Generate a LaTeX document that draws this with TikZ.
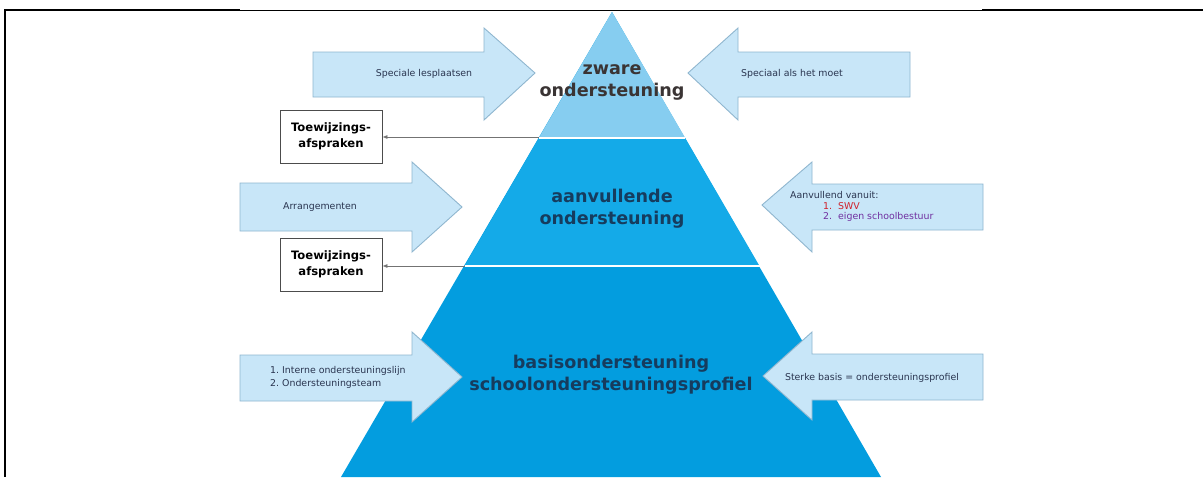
\documentclass[tikz,border=0pt]{standalone}
\usepackage{fontspec}
\setmainfont{DejaVu Sans}
\usetikzlibrary{arrows.meta}
\definecolor{topband}{HTML}{86CDF0}
\definecolor{midband}{HTML}{14AAE8}
\definecolor{botband}{HTML}{039DDF}
\definecolor{arrfill}{HTML}{C8E6F8}
\definecolor{arrline}{HTML}{8FB6CF}
\definecolor{navy}{HTML}{163C5E}
\definecolor{brownish}{HTML}{3A3434}
\definecolor{smalltext}{HTML}{2A3550}
\definecolor{swvred}{HTML}{D0202A}
\definecolor{purp}{HTML}{7030A0}
\tikzset{
  bigarrow/.style={fill=arrfill, draw=arrline, line width=0.9pt, line join=miter},
  leveltext/.style={align=center, inner sep=0pt, font=\fontsize{17.6}{22}\selectfont\bfseries},
  arrtext/.style={inner sep=0pt, text=smalltext, font=\fontsize{9.4}{11}\selectfont},
  boxnode/.style={draw=black!70, line width=0.8pt, fill=white, minimum width=102pt, minimum height=53pt, align=center, inner sep=0pt, font=\fontsize{11.6}{15.5}\selectfont\bfseries},
  tolink/.style={draw=black!55, line width=0.7pt, -{Latex[length=5pt,width=4pt]}}
}
\begin{document}
\begin{tikzpicture}[x=1pt,y=-1pt]
\useasboundingbox (0,0) rectangle (1203,477);
\fill[white] (0,0) rectangle (1203,477);
% frame
\draw[line width=1.8pt] (5,10) -- (240,10);
\draw[line width=0.9pt] (240,10) -- (982,10);
\draw[line width=1.8pt] (982,10) -- (1203,10);
\draw[line width=1.8pt] (5,9.1) -- (5,477);
% pyramid
\fill[botband] (612,12) -- (341,477) -- (881,477) -- cycle;
\fill[midband] (538.8,138) -- (685.2,138) -- (759.5,266) -- (464.5,266) -- cycle;
\fill[topband] (612,12) -- (538.8,138) -- (685.2,138) -- cycle;
\draw[white, line width=1.6pt] (538.8,138) -- (685.2,138);
\draw[white, line width=1.6pt] (464.5,266) -- (759.5,266);
\coordinate (e1) at (538.8,137);
\coordinate (e2) at (464.5,266);
% level labels
\node[leveltext, text=brownish] (zw) at (612,82) {zware\\ondersteuning};
\node[leveltext, text=navy] (aa) at (612,209) {aanvullende\\ondersteuning};
\node[leveltext, text=navy] (ba) at (611,375) {basisondersteuning\\schoolondersteuningsprofiel};
% big arrows
\draw[bigarrow] (313,52) -- (484,52) -- (484,28) -- (535,73) -- (484,120) -- (484,97) -- (313,97) -- cycle;
\node[arrtext] (a1) at (424,74) {Speciale lesplaatsen};
\draw[bigarrow] (910,52) -- (738,52) -- (738,28) -- (688,73) -- (738,120) -- (738,97) -- (910,97) -- cycle;
\node[arrtext] (a2) at (792,74) {Speciaal als het moet};
\draw[bigarrow] (240,183) -- (412,183) -- (412,162) -- (462,207) -- (412,252) -- (412,231) -- (240,231) -- cycle;
\node[arrtext] (a3) at (320,207) {Arrangementen};
\draw[bigarrow] (983,184) -- (812,184) -- (812,162) -- (762,205) -- (812,252) -- (812,230) -- (983,230) -- cycle;
\node[arrtext, anchor=west] (a4) at (790,195) {Aanvullend vanuit:};
\node[arrtext, anchor=west, text=swvred] (a4b) at (823,206) {1.\ \ SWV};
\node[arrtext, anchor=west, text=purp] (a4c) at (823,217) {2.\ \ eigen schoolbestuur};
\draw[bigarrow] (240,355) -- (412,355) -- (412,332) -- (462,377) -- (412,422) -- (412,401) -- (240,401) -- cycle;
\node[arrtext, anchor=west] (a5) at (270,371) {1.\ Interne ondersteuningslijn};
\node[arrtext, anchor=west] (a5b) at (270,384) {2.\ Ondersteuningsteam};
\draw[bigarrow] (983,354) -- (812,354) -- (812,332) -- (763,376) -- (812,420) -- (812,400) -- (983,400) -- cycle;
\node[arrtext] (a6) at (872,378) {Sterke basis = ondersteuningsprofiel};
% boxes
\node[boxnode] (b1) at (331,136.5) {Toewijzings-\\afspraken};
\node[boxnode] (b2) at (331,264.5) {Toewijzings-\\afspraken};
\draw[tolink] (e1) -- (b1.east |- e1);
\draw[tolink] (e2) -- (b2.east |- e2);
\end{tikzpicture}
\end{document}
